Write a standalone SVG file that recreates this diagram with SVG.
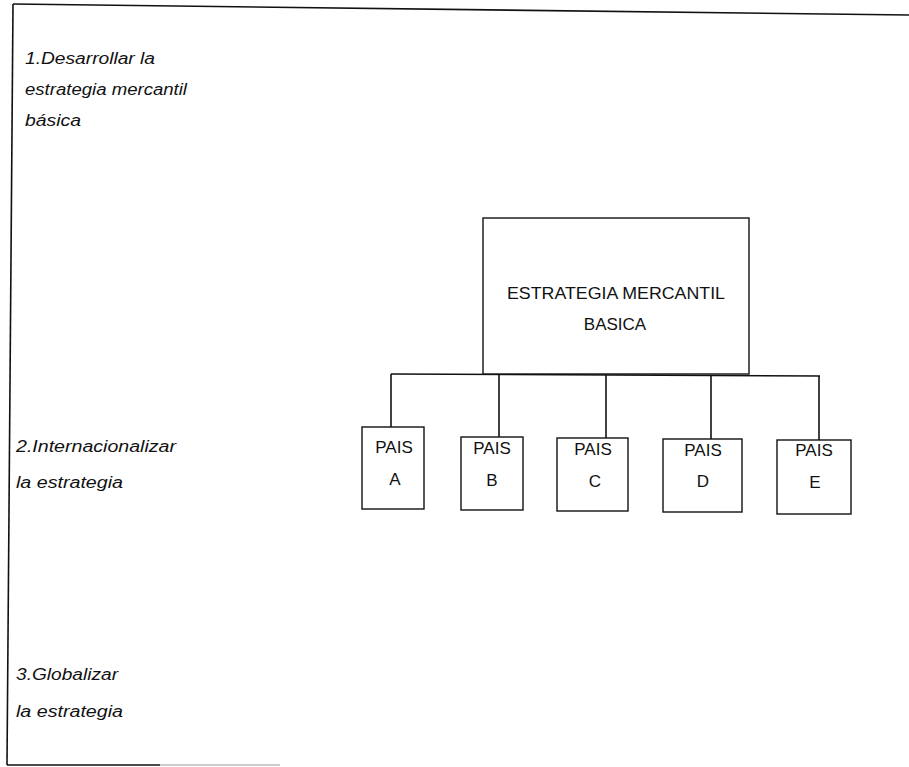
<svg xmlns="http://www.w3.org/2000/svg" width="909" height="767" viewBox="0 0 909 767">
<style>
.frame{fill:none;stroke:#111;stroke-width:1.6}
.box{fill:#fff;stroke:#111;stroke-width:1.4}
.conn{fill:none;stroke:#111;stroke-width:1.6}
.lbl{font-family:"Liberation Sans",Arial,sans-serif;font-style:italic;font-size:16px;fill:#111}
.t{font-family:"Liberation Sans",Arial,sans-serif;font-size:17px;fill:#111;text-anchor:middle}
</style>
<rect width="909" height="767" fill="#fff"/>
<g id="frame">
<path class="frame" d="M13,4 L909,15"/>
<path class="frame" d="M13,4 L7,765"/>
<path class="frame" d="M7,765 L160,765"/>
<path d="M160,765 L280,765" stroke="#999" stroke-width="1.2"/>
</g>
<g id="stage-labels">
<text class="lbl" x="25" y="64" textLength="130" lengthAdjust="spacingAndGlyphs">1.Desarrollar la</text>
<text class="lbl" x="25" y="95" textLength="162" lengthAdjust="spacingAndGlyphs">estrategia mercantil</text>
<text class="lbl" x="25" y="126" textLength="56" lengthAdjust="spacingAndGlyphs">básica</text>
<text class="lbl" x="16" y="452" textLength="160" lengthAdjust="spacingAndGlyphs">2.Internacionalizar</text>
<text class="lbl" x="16" y="488" textLength="107" lengthAdjust="spacingAndGlyphs">la estrategia</text>
<text class="lbl" x="16" y="680" textLength="102" lengthAdjust="spacingAndGlyphs">3.Globalizar</text>
<text class="lbl" x="16" y="717" textLength="107" lengthAdjust="spacingAndGlyphs">la estrategia</text>
</g>
<g id="connectors">
<path class="conn" d="M391,374 L820,376"/>
<path class="conn" d="M391,374 L391,427"/>
<path class="conn" d="M499,374 L499,437"/>
<path class="conn" d="M606,375 L606,438"/>
<path class="conn" d="M711,375 L711,439"/>
<path class="conn" d="M819,376 L819,440"/>
</g>
<g id="estrategia-basica">
<rect class="box" x="483" y="218" width="266" height="156"/>
<text class="t" x="616" y="299" textLength="218" lengthAdjust="spacingAndGlyphs">ESTRATEGIA MERCANTIL</text>
<text class="t" x="615" y="330">BASICA</text>
</g>
<g id="pais-a">
<rect class="box" x="362" y="427" width="62" height="82"/>
<text class="t" x="394" y="453">PAIS</text>
<text class="t" x="395" y="485">A</text>
</g>
<g id="pais-b">
<rect class="box" x="461" y="437" width="62" height="73"/>
<text class="t" x="492" y="454">PAIS</text>
<text class="t" x="492" y="486">B</text>
</g>
<g id="pais-c">
<rect class="box" x="557" y="438" width="71" height="73"/>
<text class="t" x="593" y="455">PAIS</text>
<text class="t" x="595" y="487">C</text>
</g>
<g id="pais-d">
<rect class="box" x="663" y="439" width="79" height="73"/>
<text class="t" x="703" y="456">PAIS</text>
<text class="t" x="703" y="487">D</text>
</g>
<g id="pais-e">
<rect class="box" x="777" y="440" width="74" height="74"/>
<text class="t" x="814" y="456">PAIS</text>
<text class="t" x="815" y="488">E</text>
</g>
</svg>
